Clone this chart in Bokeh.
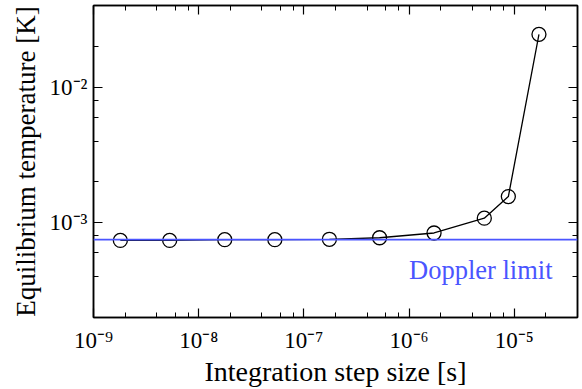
from bokeh.plotting import figure
from bokeh.models import (LogAxis, LogTicker, CustomJSTickFormatter, Span, Label,
                          ColumnDataSource, Range1d)
from bokeh.embed import file_html
from bokeh.resources import INLINE

# ---- data ----
step_size = [1.8e-9, 5.3e-9, 1.77e-8, 5.3e-8, 1.75e-7, 5.25e-7, 1.73e-6, 5.2e-6, 8.8e-6, 1.72e-5]
temperature = [7.4e-4, 7.4e-4, 7.5e-4, 7.5e-4, 7.55e-4, 7.75e-4, 8.4e-4, 1.08e-3, 1.56e-3, 2.45e-2]
doppler_limit = 7.5e-4
doppler_label = "Doppler limit"
doppler_label_pos = (1.0e-6, 4.1e-4)
x_limits = (1e-9, 4e-5)
y_limits = (2e-4, 4e-2)
x_title = "Integration step size [s]"
y_title = "Equilibrium temperature [K]"

FONT = "'Liberation Serif', 'Times New Roman', serif"
BLUE = "#4a55ff"

src = ColumnDataSource(dict(x=step_size, y=temperature))

p = figure(width=582, height=389, x_axis_type="log", y_axis_type="log",
           x_range=Range1d(*x_limits), y_range=Range1d(*y_limits),
           output_backend="svg", toolbar_location=None,
           min_border_left=93, min_border_right=5, min_border_top=5, min_border_bottom=71)
p.background_fill_color = "white"
p.border_fill_color = "white"
p.outline_line_color = "black"
p.outline_line_width = 1.5
p.grid.visible = False

# "10" followed by the exponent in superscript characters
sup_js = """
const sup = {"-":"\u207b","0":"\u2070","1":"\u00b9","2":"\u00b2","3":"\u00b3","4":"\u2074",
             "5":"\u2075","6":"\u2076","7":"\u2077","8":"\u2078","9":"\u2079"};
const e = Math.round(Math.log10(tick));
return "10" + String(e).split("").map(c => sup[c]).join("");
"""
fmt = CustomJSTickFormatter(code=sup_js)
blank = CustomJSTickFormatter(code="return '';")

def style(ax, labels=True):
    ax.axis_line_color = "black"
    ax.axis_line_width = 1.5
    ax.major_tick_in = 9
    ax.major_tick_out = 0
    ax.minor_tick_in = 5
    ax.minor_tick_out = 0
    ax.major_tick_line_color = "black"
    ax.minor_tick_line_color = "black"
    ax.major_tick_line_width = 1.2
    ax.minor_tick_line_width = 1.0
    if labels:
        ax.formatter = fmt
        ax.major_label_text_font = FONT
        ax.major_label_text_font_size = "23px"
        ax.major_label_text_color = "black"
        ax.axis_label_text_font = FONT
        ax.axis_label_text_font_size = "27px"
        ax.axis_label_text_font_style = "normal"
        ax.axis_label_text_color = "black"
    else:
        ax.formatter = blank
        ax.major_label_text_font_size = "0px"
        ax.major_label_standoff = 0

xa = p.xaxis[0]
ya = p.yaxis[0]
style(xa)
style(ya)
xa.ticker = LogTicker(desired_num_ticks=6)
ya.ticker = LogTicker(desired_num_ticks=3)
xa.axis_label = x_title
ya.axis_label = y_title
xa.axis_label_text_font_size = "28px"
xa.major_label_standoff = 10
xa.axis_label_standoff = 0
ya.major_label_standoff = 6
ya.axis_label_standoff = 6

top = LogAxis(ticker=LogTicker(desired_num_ticks=6))
right = LogAxis(ticker=LogTicker(desired_num_ticks=3))
style(top, labels=False)
style(right, labels=False)
p.add_layout(top, "above")
p.add_layout(right, "right")

p.line("x", "y", source=src, line_color="black", line_width=1.3)
p.scatter("x", "y", source=src, marker="circle", size=14, fill_color=None,
          line_color="black", line_width=1.3)

p.add_layout(Span(location=doppler_limit, dimension="width", line_color=BLUE, line_width=1.8))
p.add_layout(Label(x=doppler_label_pos[0], y=doppler_label_pos[1], text=doppler_label,
                   text_font=FONT, text_font_size="26.5px", text_color=BLUE,
                   text_baseline="alphabetic", text_align="left", y_offset=5))

open("out.html", "w").write(file_html(p, INLINE))
